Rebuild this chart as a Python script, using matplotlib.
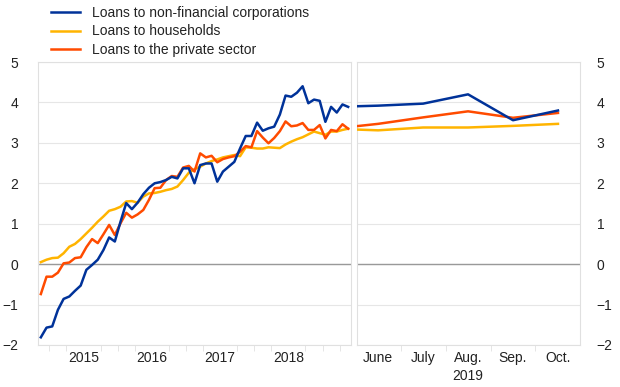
import numpy as np
import pandas as pd
import matplotlib
matplotlib.use('Agg')
import matplotlib.pyplot as plt
from matplotlib.lines import Line2D

plt.rcParams['font.family'] = ['Liberation Sans', 'DejaVu Sans']

# monthly data, Nov 2014 - May 2019
months = pd.date_range('2014-11-01', periods=55, freq='MS')
nfc = [-1.81, -1.57, -1.54, -1.13, -0.86, -0.80, -0.66, -0.53, -0.14, -0.02,
       0.11, 0.35, 0.66, 0.56, 1.05, 1.51, 1.36, 1.52, 1.73, 1.89,
       2.00, 2.03, 2.08, 2.16, 2.12, 2.37, 2.37, 2.00, 2.45, 2.49,
       2.49, 2.04, 2.29, 2.41, 2.53, 2.86, 3.17, 3.17, 3.50, 3.30,
       3.36, 3.40, 3.70, 4.17, 4.14, 4.24, 4.40, 3.98, 4.07, 4.04,
       3.52, 3.89, 3.75, 3.95, 3.89]
households = [0.05, 0.11, 0.15, 0.16, 0.27, 0.43, 0.50, 0.62, 0.76, 0.90,
              1.05, 1.18, 1.32, 1.36, 1.42, 1.55, 1.56, 1.52, 1.67, 1.75,
              1.76, 1.79, 1.83, 1.86, 1.92, 2.08, 2.26, 2.35, 2.41, 2.49,
              2.55, 2.59, 2.64, 2.67, 2.70, 2.67, 2.89, 2.88, 2.86, 2.86,
              2.89, 2.88, 2.87, 2.96, 3.03, 3.09, 3.14, 3.21, 3.28, 3.24,
              3.20, 3.28, 3.28, 3.32, 3.35]
private = [-0.74, -0.31, -0.31, -0.21, 0.02, 0.04, 0.15, 0.17, 0.42, 0.62,
           0.52, 0.74, 0.97, 0.72, 1.01, 1.27, 1.15, 1.23, 1.34, 1.59,
           1.88, 1.89, 2.08, 2.18, 2.16, 2.39, 2.43, 2.29, 2.74, 2.64,
           2.68, 2.52, 2.60, 2.64, 2.67, 2.78, 2.92, 2.89, 3.29, 3.13,
           2.99, 3.12, 3.29, 3.53, 3.41, 3.43, 3.49, 3.32, 3.32, 3.44,
           3.11, 3.32, 3.29, 3.46, 3.35]

# recent months 2019
recent_labels = ['June', 'July', 'Aug.', 'Sep.', 'Oct.']
nfc_recent = [3.92, 3.97, 4.20, 3.56, 3.80]
households_recent = [3.31, 3.38, 3.38, 3.42, 3.47]
private_recent = [3.47, 3.63, 3.78, 3.62, 3.74]

BLUE = '#003299'
YELLOW = '#FFB400'
ORANGE = '#FF4B00'
GRID = '#e6e6e6'
TXT = '#222222'

fig = plt.figure(figsize=(6.2, 3.87), dpi=100)
ax1 = fig.add_axes([38/620, 1-345/387, 313/620, 283/387])
ax2 = fig.add_axes([357/620, 1-345/387, 223/620, 283/387])

lw = 1.8
x = np.arange(len(months))
ax1.plot(x, nfc, color=BLUE, lw=lw, zorder=4)
ax1.plot(x, households, color=YELLOW, lw=lw, zorder=3)
ax1.plot(x, private, color=ORANGE, lw=lw, zorder=3.5)

# right panel continues from May
xr = np.arange(-1, len(recent_labels))
ax2.plot(xr, [nfc[-1]] + nfc_recent, color=BLUE, lw=lw, zorder=4)
ax2.plot(xr, [households[-1]] + households_recent, color=YELLOW, lw=lw, zorder=3)
ax2.plot(xr, [private[-1]] + private_recent, color=ORANGE, lw=lw, zorder=3.5)

for ax in (ax1, ax2):
    ax.set_ylim(-2, 5)
    ax.set_yticks(range(-2, 6))
    ax.grid(axis='y', color=GRID, lw=0.8, zorder=0)
    ax.axhline(0, color='#999999', lw=1.0, zorder=2)
    for s in ax.spines.values():
        s.set_color('#e0e0e0')
        s.set_linewidth(0.8)
    ax.tick_params(axis='y', length=0, labelsize=10, colors=TXT, pad=14)
    ax.tick_params(axis='x', which='both', length=0, labelsize=10, colors=TXT, pad=4)
    ax.tick_params(axis='x', which='minor', length=4, color='#e0e0e0')

ax1.set_xlim(-0.5, len(months) - 0.5)
years = [2015, 2016, 2017, 2018]
year_pos = [list(months.year).index(y) + 5.5 for y in years]
ax1.set_xticks(year_pos)
ax1.set_xticklabels([str(y) for y in years])
ax1.set_xticks(np.arange(1.5, len(months), 3), minor=True)
ax1.yaxis.set_ticks_position('left')

ax2.set_xlim(-0.47, 4.49)
ax2.set_xticks(range(len(recent_labels)))
ax2.set_xticklabels(recent_labels)
ax2.set_xticks(np.arange(0.5, 4.5, 1), minor=True)
ax2.yaxis.tick_right()
ax2.tick_params(axis='y', pad=12)
ax2.text(2, -0.085, '2019', transform=ax2.get_xaxis_transform(), ha='center', va='top',
         fontsize=10, color=TXT)

handles = [Line2D([], [], color=BLUE, lw=lw),
           Line2D([], [], color=YELLOW, lw=lw),
           Line2D([], [], color=ORANGE, lw=lw)]
fig.legend(handles, ['Loans to non-financial corporations', 'Loans to households',
                     'Loans to the private sector'],
           loc='upper left', bbox_to_anchor=(38/620, 1.018), frameon=False,
           fontsize=10, handlelength=2.1, handletextpad=0.9, labelspacing=0.35,
           labelcolor=TXT)

fig.savefig('out.png', dpi=100)
